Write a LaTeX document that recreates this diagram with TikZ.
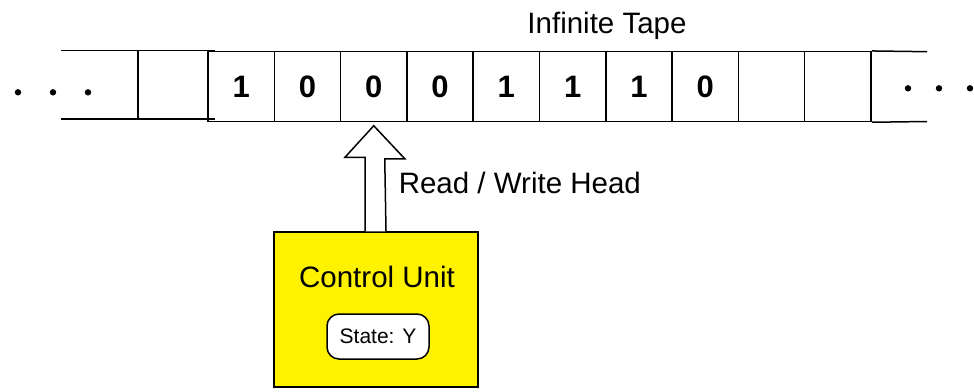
\documentclass[tikz,border=0pt]{standalone}
\usepackage{fontspec}
\setmainfont{Liberation Sans}
\begin{document}
\begin{tikzpicture}[x=1pt,y=-1pt,
  line width=1.5pt,
  lbl/.style={font=\fontsize{29.5}{34}\selectfont, inner sep=0pt},
  cell/.style={draw, minimum width=66.3pt, minimum height=69.8pt, inner sep=0pt,
               font=\fontsize{31}{36}\selectfont\bfseries},
  cubox/.style={draw, fill=yellow, minimum width=204pt, minimum height=155pt, inner sep=0pt},
  statebox/.style={draw, fill=white, rounded corners=12pt, minimum width=102pt,
                   minimum height=45pt, inner sep=0pt, font=\fontsize{21}{25}\selectfont},
  headarrow/.style={draw, fill=white, line join=miter},
  dot/.style={fill=black, draw=none}]
\useasboundingbox (0,0) rectangle (974,391);

% tape cells
\foreach \s [count=\i] in {1,0,0,0,1,1,1,0,{},{}} {
  \node[cell] (c\i) at ({208+66.3*(\i-0.5)},86.6) {\s};
}

% open end on the left
\coordinate (lt0) at (61,50.3);
\coordinate (lt1) at (215,50.3);
\coordinate (lb0) at (61,119);
\coordinate (lb1) at (215,119);
\draw (lt0) -- (lt1);
\draw (lb0) -- (lb1);
\draw (138,50.3) -- (138,119);

% open end on the right
\coordinate (rt) at (927,51.7);
\coordinate (rb) at (927,121.5);
\draw (c10.north east) -- (rt);
\draw (c10.south east) -- (rb);

% ellipsis dots
\foreach \x in {18,53,88} \fill[dot] (\x,92.3) circle (3.2pt);
\foreach \x in {908,939,970} \fill[dot] (\x,88.3) circle (3.2pt);

% labels
\node[lbl, anchor=base] (tape) at (607,33.3) {Infinite Tape};
\node[lbl, anchor=base west] (rw) at (398,193) {Read / Write Head};

% control unit
\node[cubox] (cu) at (376,309.5) {};
\node[lbl, anchor=base] (cut) at (377,287) {Control Unit};
\node[statebox] (st) at (378,336.5) {State: Y};

% read / write head arrow
\coordinate (tip) at ([yshift=-3.5pt]c3.south);
\draw[headarrow] ([xshift=-11pt]cu.north) -- ++(0,-74) -- ++(-20,0) -- (tip)
  -- ++(31,33) -- ++(-20,0) -- ([xshift=10pt]cu.north);
\end{tikzpicture}
\end{document}
